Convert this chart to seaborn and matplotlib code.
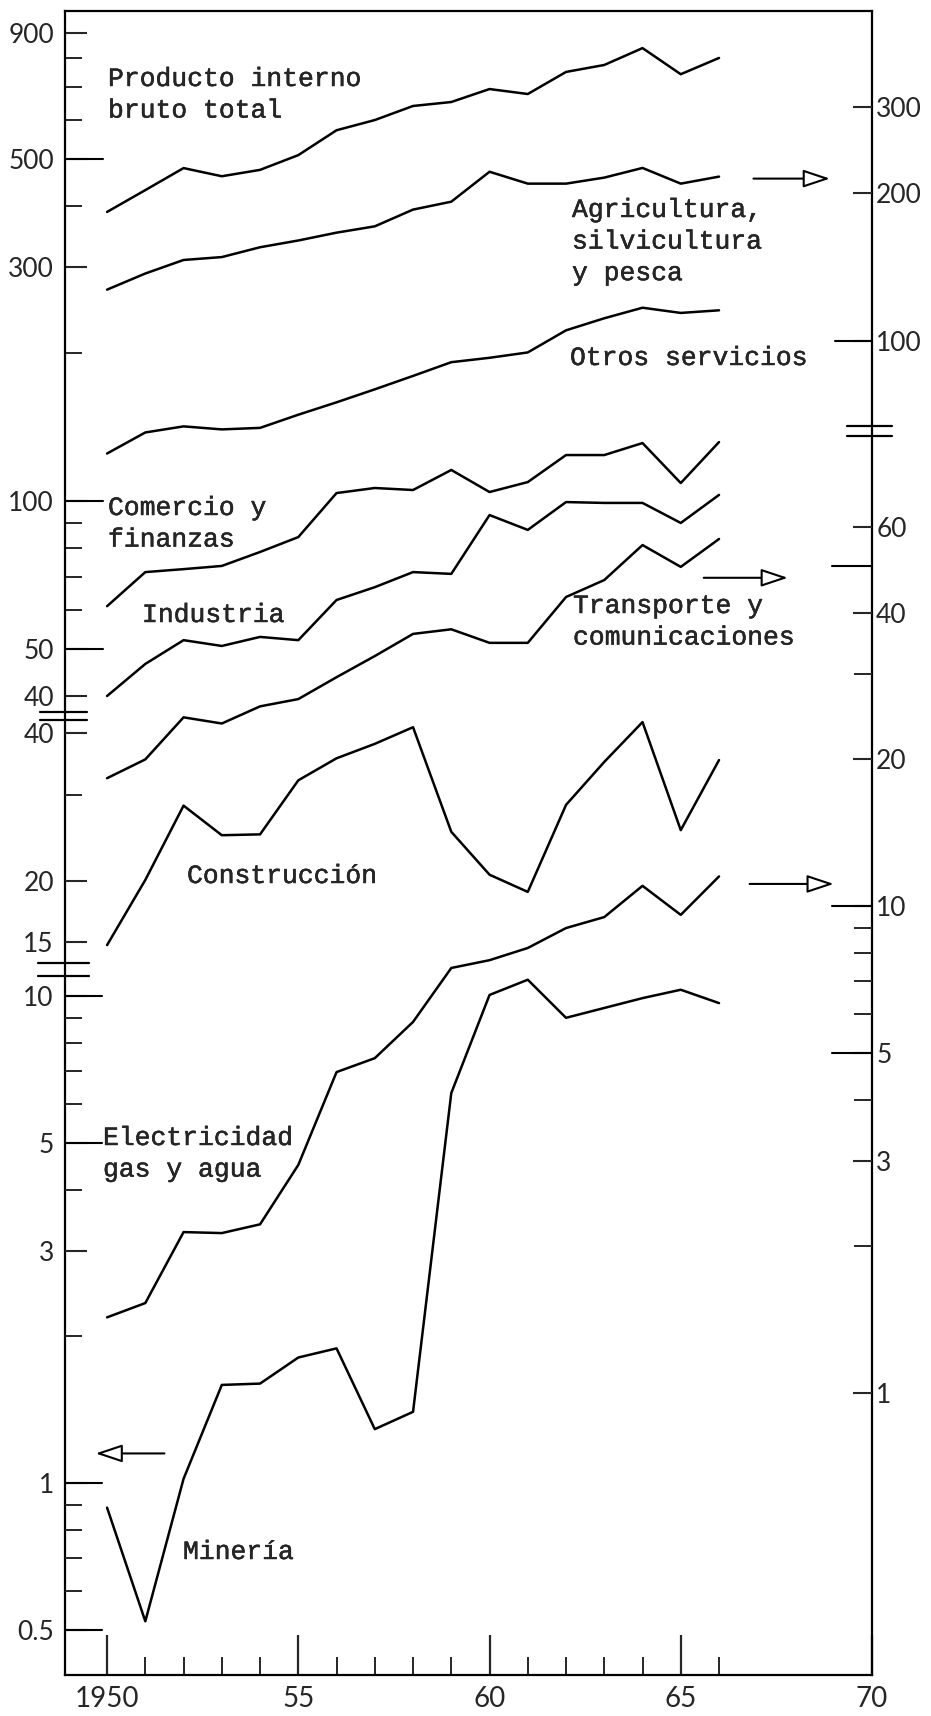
import matplotlib
matplotlib.use("Agg")
import matplotlib.pyplot as plt
import matplotlib.patheffects as pe
from matplotlib.ticker import FixedLocator, FixedFormatter, NullFormatter
import seaborn as sns

# ===================== 数据（对数刻度，读自原图） =====================
years = list(range(1950, 1967))

# 左轴上段
pib_total = [389, 431, 478, 460, 474, 508, 571, 599, 640, 652, 693, 677, 751, 776, 840, 743, 802]
otros_servicios = [125, 138, 142, 140, 141, 150, 159, 169, 180, 192, 196, 201, 223, 236, 248, 242, 245]
comercio_finanzas = [61.0, 71.6, 72.6, 73.7, 78.7, 84.4, 103.8, 106.3, 105.3, 115.7, 104.3, 109.3,
                     124.1, 124.1, 131.3, 108.8, 131.9]
industria = [40.0, 46.5, 52.0, 50.6, 52.8, 52.0, 62.8, 66.7, 71.6, 71.0, 93.6, 87.3, 99.5, 99.1,
             99.1, 90.2, 102.9]
# 右轴上段
agricultura = [127, 137, 146, 148, 155, 160, 166, 171, 185, 192, 221, 209, 209, 215, 225, 209, 216]
# 左轴中段
construccion = [14.8, 20.1, 28.5, 24.8, 24.9, 32.1, 35.6, 38.1, 41.2, 25.2, 20.6, 19.0, 28.6, 35.0,
                42.2, 25.4, 35.3]
# 右轴下段
transporte = [18.3, 20.0, 24.4, 23.7, 25.7, 26.6, 29.5, 32.6, 36.2, 37.0, 34.7, 34.7, 43.1, 46.7,
              55.1, 49.7, 56.7]
electricidad = [1.43, 1.53, 2.14, 2.13, 2.22, 2.94, 4.56, 4.87, 5.78, 7.46, 7.74, 8.20, 9.01, 9.49,
                11.0, 9.59, 11.5]
# 左轴下段
mineria = [0.89, 0.52, 1.02, 1.59, 1.60, 1.81, 1.89, 1.29, 1.40, 6.32, 10.05, 10.8, 9.02, 9.45,
           9.90, 10.3, 9.67]

# 刻度
l1_major = [900, 500, 300, 100, 50, 40]
l1_minor = [800, 700, 600, 400, 200, 90, 80, 70, 60]
l2_major = [40, 20, 15]
l2_minor = [30]
l3_major = [10, 5, 3, 1, 0.5]
l3_labels = ["10", "5", "3", "1", "0.5"]
l3_minor = [9, 8, 7, 6, 4, 2, 0.9, 0.8, 0.7, 0.6]
r1_major = [300, 200, 100]
r2_major = [60, 40, 20, 10, 5, 3, 1]
r2_minor = [50, 30, 9, 8, 7, 6, 4, 2]
x_major = [1950, 1955, 1960, 1965, 1970]
x_labels = ["1950", "55", "60", "65", "70"]
x_minor = [y for y in years if y not in x_major]

# ===================== 版面 =====================
W, H = 931, 1716
X_L, X_R, Y_TOP, Y_BOT = 65, 872, 11, 1675
AX_W = X_R - X_L

sns.set_style("white")
plt.rcParams['font.family'] = ['Lato', 'DejaVu Sans']
MONO = ['Liberation Mono', 'DejaVu Sans Mono']


def seg_lim(ref_val, ref_px, px_dec):
    # 每段对数轴：给定一个参考值所在像素，求整幅高度对应的 ylim
    lo = ref_val * 10 ** (-(Y_BOT - ref_px) / px_dec)
    hi = ref_val * 10 ** ((ref_px - Y_TOP) / px_dec)
    return lo, hi


def px(x):
    return x / W


def py(y):
    return 1 - y / H


fig = plt.figure(figsize=(W / 100, H / 100), dpi=100)
ax = fig.add_axes([px(X_L), py(Y_BOT), AX_W / W, (Y_BOT - Y_TOP) / H])
ax_l2 = ax.twinx()
ax_l3 = ax.twinx()
ax_r1 = ax.twinx()
ax_r2 = ax.twinx()

for a in [ax, ax_l2, ax_l3, ax_r1, ax_r2]:
    a.set_yscale("log")

# ===================== 画线 =====================
line_kw = dict(color="black", linewidth=1.8)
for vals in [pib_total, otros_servicios, comercio_finanzas, industria]:
    sns.lineplot(x=years, y=vals, ax=ax, **line_kw)
sns.lineplot(x=years, y=agricultura, ax=ax_r1, **line_kw)
sns.lineplot(x=years, y=construccion, ax=ax_l2, **line_kw)
sns.lineplot(x=years, y=transporte, ax=ax_r2, **line_kw)
sns.lineplot(x=years, y=electricidad, ax=ax_r2, **line_kw)
sns.lineplot(x=years, y=mineria, ax=ax_l3, **line_kw)

ax.set_ylim(*seg_lim(100, 501, 490))
ax_l2.set_ylim(*seg_lim(20, 881, 490))
ax_l3.set_ylim(*seg_lim(1, 1483, 487))
ax_r1.set_ylim(*seg_lim(200, 193, 490))
ax_r2.set_ylim(*seg_lim(1, 1393, 487))
ax.set_xlim(1948.9, 1970)


def set_ticks(a, major, labels, minor, side):
    a.yaxis.set_major_locator(FixedLocator(major))
    a.yaxis.set_major_formatter(FixedFormatter(labels))
    a.yaxis.set_minor_locator(FixedLocator(minor))
    a.yaxis.set_minor_formatter(NullFormatter())
    a.set_xlabel("")
    a.set_ylabel("")
    if side == "left":
        a.yaxis.set_ticks_position("left")
        a.tick_params(axis="y", which="both", direction="in", left=True, right=False,
                      labelleft=True, labelright=False, pad=8, labelsize=19)
        a.tick_params(axis="y", which="major", length=16, width=1.5)
        a.tick_params(axis="y", which="minor", length=12, width=1.4)
    else:
        a.yaxis.set_ticks_position("right")
        a.tick_params(axis="y", which="both", direction="in", left=False, right=True,
                      labelleft=False, labelright=True, pad=3, labelsize=19)
        a.tick_params(axis="y", which="major", length=14, width=1.5)
        a.tick_params(axis="y", which="minor", length=13, width=1.4)


set_ticks(ax, l1_major, [str(v) for v in l1_major], l1_minor, "left")
set_ticks(ax_l2, l2_major, [str(v) for v in l2_major], l2_minor, "left")
set_ticks(ax_l3, l3_major, l3_labels, l3_minor, "left")
set_ticks(ax_r1, r1_major, [str(v) for v in r1_major], [], "right")
set_ticks(ax_r2, r2_major, [str(v) for v in r2_major], r2_minor, "right")

for a in [ax_l2, ax_l3, ax_r1, ax_r2]:
    for s in a.spines.values():
        s.set_visible(False)
for s in ax.spines.values():
    s.set_visible(True)
    s.set_color("black")
    s.set_linewidth(1.6)

# x 轴：刻度朝内
ax.xaxis.set_major_locator(FixedLocator(x_major))
ax.xaxis.set_major_formatter(FixedFormatter(x_labels))
ax.xaxis.set_minor_locator(FixedLocator(x_minor))
ax.xaxis.set_minor_formatter(NullFormatter())
ax.tick_params(axis="x", which="both", direction="in", bottom=True, top=False, pad=8, labelsize=20)
ax.tick_params(axis="x", which="major", length=29, width=1.6)
ax.tick_params(axis="x", which="minor", length=13, width=1.4)

# 加长的刻度
for a, vals, n in [(ax, [500, 100, 50], 38), (ax_l3, [10, 5, 1, 0.5], 37)]:
    for v in vals:
        a.axhline(v, xmin=0, xmax=n / AX_W, color="black", lw=1.5)
for a, vals, n in [(ax_r1, [100], 37), (ax_r2, [50, 10, 5], 40)]:
    for v in vals:
        a.axhline(v, xmin=1 - n / AX_W, xmax=1, color="black", lw=1.5)

# 断轴标记
brk = dict(color="black", lw=1.6, clip_on=False)
for v in [37.1, 35.7]:
    ax.axhline(v, xmin=-25 / AX_W, xmax=22 / AX_W, **brk)
for v in [13.6, 12.8]:
    ax_l2.axhline(v, xmin=-27 / AX_W, xmax=24 / AX_W, **brk)
for v in [66.8, 63.9]:
    ax_r1.axhline(v, xmin=1 - 25 / AX_W, xmax=1 + 20 / AX_W, **brk)

# 指向坐标轴的箭头
arr = dict(arrowstyle="-|>,head_length=0.66,head_width=0.22", fc="white", ec="black",
           lw=1.5, mutation_scale=25, shrinkA=0, shrinkB=0)
ax_r1.annotate("", xy=(1968.9, 214), xytext=(1966.9, 214), arrowprops=arr)
ax_r2.annotate("", xy=(1967.8, 47.2), xytext=(1965.6, 47.2), arrowprops=arr)
ax_r2.annotate("", xy=(1969.0, 11.1), xytext=(1966.8, 11.1), arrowprops=arr)
ax_l3.annotate("", xy=(1949.7, 1.15), xytext=(1951.5, 1.15), arrowprops=arr)

# 系列名称（打字机字体，略加粗）
txt = dict(family=MONO, fontsize=19, va="top", ha="left", linespacing=1.4,
           path_effects=[pe.withStroke(linewidth=0.3, foreground="black")])
fig.text(px(108), py(67), "Producto interno\nbruto total", **txt)
fig.text(px(572), py(198), "Agricultura,\nsilvicultura\ny pesca", **txt)
fig.text(px(570), py(346), "Otros servicios", **txt)
fig.text(px(108), py(496), "Comercio y\nfinanzas", **txt)
fig.text(px(142), py(603), "Industria", **txt)
fig.text(px(573), py(594), "Transporte y\ncomunicaciones", **txt)
fig.text(px(187), py(864), "Construcción", **txt)
fig.text(px(103), py(1126), "Electricidad\ngas y agua", **txt)
fig.text(px(183), py(1540), "Minería", **txt)

fig.savefig("out.png", dpi=100)
plt.close(fig)
